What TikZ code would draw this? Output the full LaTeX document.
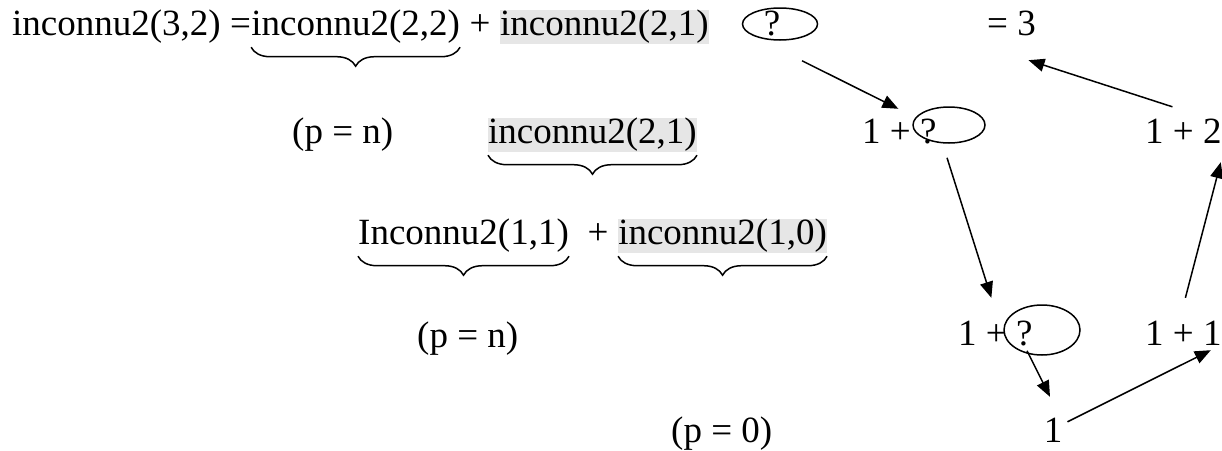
\documentclass[tikz,border=0pt]{standalone}
\usepackage{fontspec}
\setmainfont{Liberation Serif}
\usetikzlibrary{arrows.meta,shapes.geometric,decorations.pathreplacing}
\definecolor{grigio}{HTML}{E6E6E6}
\tikzset{
    testo/.style={inner sep=0pt, text height=25pt, text depth=9pt, anchor=base west},
    evid/.style={testo, fill=grigio},
    graffa/.style={decorate, decoration={brace, amplitude=19pt}, line width=1.5pt},
    freccia/.style={line width=1.5pt, -{Triangle[length=16pt,width=13pt]}},
    cerchio/.style={ellipse, draw, line width=1.5pt, inner sep=0pt}
}
\begin{document}
    \begin{tikzpicture}[x=1pt, y=-1pt, font=\fontsize{37}{44}\selectfont]
        \useasboundingbox (0,0) rectangle (1222,450);

        % Riga 1
        \node[testo] (a1) at (12,35) {inconnu2(3,2) =};
        \node[testo] (a2) at (a1.base east) {inconnu2(2,2)};
        \node[testo] (a3) at (a2.base east) {~+~\null};
        \node[evid] (a4) at (a3.base east) {inconnu2(2,1)};
        \draw[graffa] ([yshift=-3pt]a2.south east) -- ([yshift=-3pt]a2.south west);
        % Riga 2
        \node[testo] (b1) at (292,143) {(p = n)};
        \node[evid] (b2) at (488,143) {inconnu2(2,1)};
        \draw[graffa] ([yshift=-3pt]b2.south east) -- ([yshift=-3pt]b2.south west);
        % Riga 3
        \node[testo] (c1) at (358,244) {Inconnu2(1,1)};
        \node[testo] (c2) at (c1.base east) {~~+~\null};
        \node[evid] (c3) at (c2.base east) {inconnu2(1,0)};
        \draw[graffa] ([yshift=-3pt]c1.south east) -- ([yshift=-3pt]c1.south west);
        \draw[graffa] ([yshift=-3pt]c3.south east) -- ([yshift=-3pt]c3.south west);
        % Righe 4 e 5
        \node[testo] (d1) at (417,347) {(p = n)};
        \node[testo] (e1) at (671,442) {(p = 0)};

        % Calcolo a destra
        \node[cerchio, minimum width=75pt, minimum height=32pt] (o1) at (780,24) {};
        \node[testo, anchor=base] (q1) at (772,35) {?};
        \node[testo] (u3) at (987,35) {= 3};
        \node[testo] (s2) at (862,143) {1 + ?};
        \node[cerchio, minimum width=72pt, minimum height=36pt] (o2) at (949,125) {};
        \node[testo] (t2) at (1145,143) {1 + 2};
        \node[testo] (s3) at (958,345) {1 + ?};
        \node[cerchio, minimum width=76pt, minimum height=50pt] (o3) at (1042,330) {};
        \node[testo] (t3) at (1145,345) {1 + 1};
        \node[testo, anchor=base] (uno) at (1053,442) {1};

        % Frecce
        \draw[freccia] ([shift={(22,20)}]o1.south) -- ([shift={(-1,-9)}]s2.north);
        \draw[freccia] ([shift={(-2,14)}]o2.south) -- ([shift={(-4,-22)}]s3.north);
        \draw[freccia] ([shift={(-15,-5)}]o3.south) -- ([shift={(-3,-20)}]uno.north);
        \draw[freccia] ([shift={(5,5)}]uno.north east) -- ([shift={(-11,-4)}]t3.south east);
        \draw[freccia] ([shift={(2,-22)}]t3.north) -- ([shift={(-1,10)}]t2.south east);
        \draw[freccia] ([shift={(-11,-11)}]t2.north) -- ([shift={(17,16)}]u3.south);
    \end{tikzpicture}
\end{document}
